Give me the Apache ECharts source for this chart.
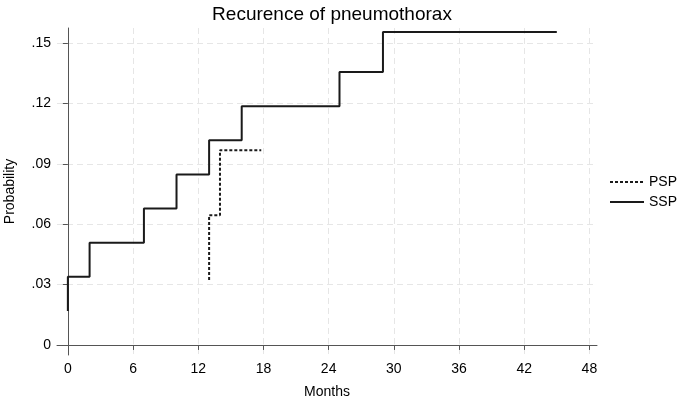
<!DOCTYPE html>
<html><head><meta charset="utf-8">
<script src="https://cdn.jsdelivr.net/npm/echarts@6/dist/echarts.min.js"></script>
<style>html,body{margin:0;padding:0;background:#fff}#c{width:685px;height:402px}</style>
</head><body><div id="c"></div>
<script>
const xTicks = [0, 6, 12, 18, 24, 30, 36, 42, 48];
const yTicks = [0, 0.03, 0.06, 0.09, 0.12, 0.15];
const sspMonths = [0, 0, 2, 7, 10, 13, 16, 25, 29, 45];
const sspProb = [0.0169, 0.0339, 0.0508, 0.0678, 0.0847, 0.1017, 0.1186, 0.1356, 0.1555, 0.1555];
const pspMonths = [13, 13, 14, 17.8];
const pspProb = [0.0323, 0.0645, 0.0968, 0.0968];

const FONT = 'Liberation Sans';
const chart = echarts.init(document.getElementById('c'));
chart.setOption({
  animation: false,
  backgroundColor: '#fff',
  textStyle: { fontFamily: FONT },
  title: {
    text: 'Recurence of pneumothorax', left: 327, top: 0, textAlign: 'center',
    textStyle: { fontFamily: FONT, fontWeight: 'normal', fontSize: 19, color: '#000' }
  },
  grid: { left: 57, right: 88, top: 28, bottom: 47, containLabel: false, outerBoundsMode: 'none' },
  legend: {
    orient: 'vertical', left: 604, top: 170, itemWidth: 34, itemHeight: 10, itemGap: 6,
    itemStyle: { opacity: 0 },
    textStyle: { fontFamily: FONT, fontSize: 14, color: '#000' },
    data: ['PSP', 'SSP']
  },
  xAxis: {
    type: 'value', min: -1, max: 48.7,
    name: 'Months', nameLocation: 'middle', nameGap: 30,
    nameTextStyle: { fontFamily: FONT, fontSize: 14, color: '#000' },
    axisLine: { show: true, lineStyle: { color: '#555', width: 1 } },
    axisTick: { show: true, length: 5, customValues: xTicks, lineStyle: { color: '#555' } },
    axisLabel: { customValues: xTicks, fontSize: 14, color: '#000', margin: 7 },
    splitLine: { show: true, lineStyle: { color: '#e6e6e6', type: [6, 4], width: 1 } }
  },
  yAxis: {
    type: 'value', min: -0.005, max: 0.1575,
    name: 'Probability', nameLocation: 'middle', nameGap: 40, nameRotate: 90,
    nameTextStyle: { fontFamily: FONT, fontSize: 14, color: '#000' },
    axisLine: { show: true, lineStyle: { color: '#555', width: 1 } },
    axisTick: { show: true, length: 5, customValues: yTicks, lineStyle: { color: '#555' } },
    axisLabel: {
      customValues: yTicks, fontSize: 14, color: '#000', margin: 6,
      formatter: v => v === 0 ? '0' : v.toFixed(2).replace(/^0/, '')
    },
    splitLine: { show: true, lineStyle: { color: '#e6e6e6', type: [6, 4], width: 1 } }
  },
  series: [
    {
      name: 'PSP', type: 'line', step: 'end', symbol: 'none',
      data: pspMonths.map((m, i) => [m, pspProb[i]]),
      lineStyle: { color: '#1a1a1a', width: 2, type: [3, 2] },
      itemStyle: { color: '#1a1a1a' }
    },
    {
      name: 'SSP', type: 'line', step: 'end', symbol: 'none',
      data: sspMonths.map((m, i) => [m, sspProb[i]]),
      lineStyle: { color: '#1a1a1a', width: 2 },
      itemStyle: { color: '#1a1a1a' }
    }
  ]
});
</script></body></html>
